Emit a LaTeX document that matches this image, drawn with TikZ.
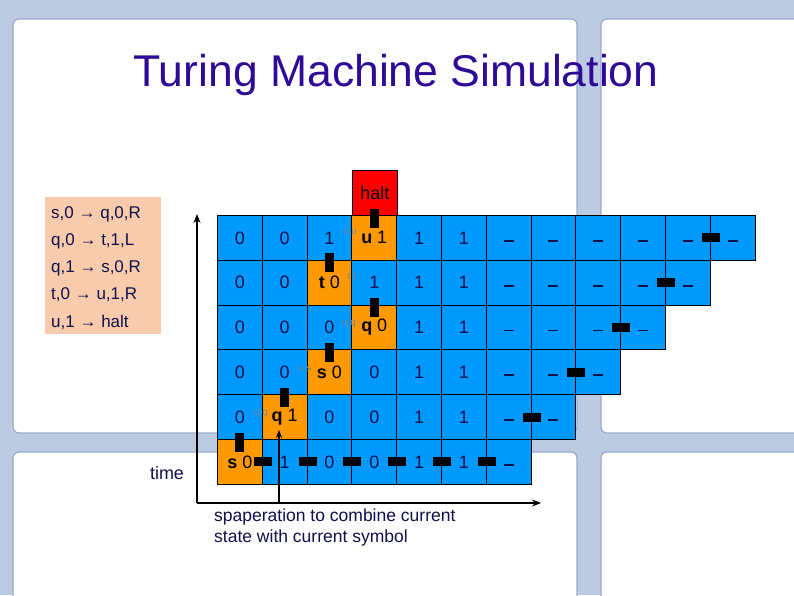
\documentclass[tikz,border=0pt]{standalone}
\usepackage{fontspec}
\setmainfont{Liberation Sans}
\usetikzlibrary{arrows.meta}
\definecolor{cellblue}{HTML}{0099FF}
\definecolor{cellorange}{HTML}{FF9900}
\definecolor{halred}{HTML}{FF0000}
\definecolor{peach}{HTML}{F8CBAD}
\definecolor{titlec}{HTML}{2E0A96}
\definecolor{navy}{HTML}{10104A}
\definecolor{frame}{HTML}{BCCBE2}
\definecolor{framedk}{HTML}{97AACB}
\tikzset{
  cellbox/.style={draw=black, line width=0.9pt, minimum width=44.8pt, minimum height=44.8pt, inner sep=0pt, anchor=north west, font=\fontsize{18}{18}\selectfont, text=navy},
  bcell/.style={cellbox, fill=cellblue},
  ocell/.style={cellbox, fill=cellorange, text=black},
  vmark/.style={fill=black, minimum width=9pt, minimum height=19pt, inner sep=0pt},
  hmark/.style={fill=black, minimum width=18pt, minimum height=9pt, inner sep=0pt},
  glabel/.style={font=\fontsize{10}{10}\selectfont, text=gray, inner sep=0pt},
  ruletxt/.style={font=\fontsize{17}{17}\selectfont, text=navy, anchor=west, inner sep=0pt},
  pane/.style={fill=white, draw=framedk, line width=1.2pt, rounded corners=6pt},
  axis/.style={line width=1.3pt, -{Stealth[length=9pt,width=7pt]}}
}
\newcommand{\blank}{\raisebox{-8pt}{\rule{10pt}{1.8pt}}}
\begin{document}
\begin{tikzpicture}[x=1pt,y=1pt]
\useasboundingbox (0,0) rectangle (794,-595);
% background window frame
\fill[frame] (0,0) rectangle (794,-595);
\draw[pane] (13,-19) rectangle (577,-433);
\draw[pane] (601,-19) rectangle (810,-433);
\draw[pane] (13,-452) rectangle (577,-610);
\draw[pane] (601,-452) rectangle (810,-610);
% title
\node[font=\fontsize{44.5}{44.5}\selectfont, text=titlec] (title) at (396,-75) {Turing Machine Simulation};
% rules
\node[fill=peach, minimum width=116pt, minimum height=137pt, inner sep=0pt, anchor=north west] (rules) at (45,-197) {};
\node[ruletxt] (r1) at (51,-214) {s,0 → q,0,R};
\node[ruletxt] (r2) at (51,-241) {q,0 → t,1,L};
\node[ruletxt] (r3) at (51,-268) {q,1 → s,0,R};
\node[ruletxt] (r4) at (51,-295) {t,0 → u,1,R};
\node[ruletxt] (r5) at (51,-322) {u,1 → halt};
% axes
\coordinate (orig) at (197,-503);
\coordinate (ytop) at (197,-214);
\coordinate (xend) at (541,-503);
\draw[axis] (orig) -- (ytop);
\draw[axis] (orig) -- (xend);
\node[font=\fontsize{18}{18}\selectfont, text=navy] (time) at (167,-473) {time};
% halt
\node[cellbox, fill=halred, text=black] (halt) at (352,-170.2) {halt};
% grid
\foreach \r/\cells in {
 1/{0,0,1,,1,1,\blank,\blank,\blank,\blank,\blank,\blank},
 2/{0,0,,1,1,1,\blank,\blank,\blank,\blank,\blank},
 3/{0,0,0,,1,1,\blank,\blank,\blank,\blank},
 4/{0,0,,0,1,1,\blank,\blank,\blank},
 5/{0,,0,0,1,1,\blank,\blank},
 6/{,1,0,0,1,1,\blank}} {
  \foreach \t [count=\k] in \cells {
    \pgfmathsetmacro{\xx}{217+44.8*(\k-1)}
    \pgfmathsetmacro{\yy}{-215-44.8*(\r-1)}
    \node[bcell] (c-\r-\k) at (\xx,\yy) {\t};
  }
}
% orange cells
\foreach \r/\k/\s/\d in {1/4/u/1, 2/3/t/0, 3/4/q/0, 4/3/s/0, 5/2/q/1, 6/1/s/0} {
  \pgfmathsetmacro{\xx}{217+44.8*(\k-1)}
  \pgfmathsetmacro{\yy}{-215-44.8*(\r-1)}
  \node[ocell] (o-\r) at (\xx,\yy) {\textbf{\s} \d};
}
% grey labels
\node[glabel] (g1) at (350,-232) {u u};
\node[glabel] (g2) at (352,-276) {t t};
\node[glabel] (g3) at (349,-324) {q q};
\node[glabel] (g4) at (305,-369) {s s};
\node[glabel] (g5) at (261,-414) {q q};
% vertical head markers
\foreach \n in {1,...,6} {
  \node[vmark, yshift=-3pt] (vm-\n) at (o-\n.north) {};
}
% horizontal markers
\foreach \k in {1,...,6} { \node[hmark] (hb-\k) at (c-6-\k.east) {}; }
\node[hmark] (h5) at (c-5-7.east) {};
\node[hmark] (h4) at (c-4-8.east) {};
\node[hmark] (h3) at (c-3-9.east) {};
\node[hmark] (h2) at (c-2-10.east) {};
\node[hmark] (h1) at (c-1-11.east) {};
% arrow to q
\coordinate (pa) at (279,-503);
\draw[line width=1.3pt, -{Stealth[length=8pt,width=6pt]}] (pa) -- (o-5.south -| pa) -- ++(0,10);
% caption
\node[font=\fontsize{17.5}{21}\selectfont, text=navy, align=left, anchor=north west, inner sep=0pt] (cap) at (214,-509) {spaperation to combine current\\state with current symbol};
\end{tikzpicture}
\end{document}
